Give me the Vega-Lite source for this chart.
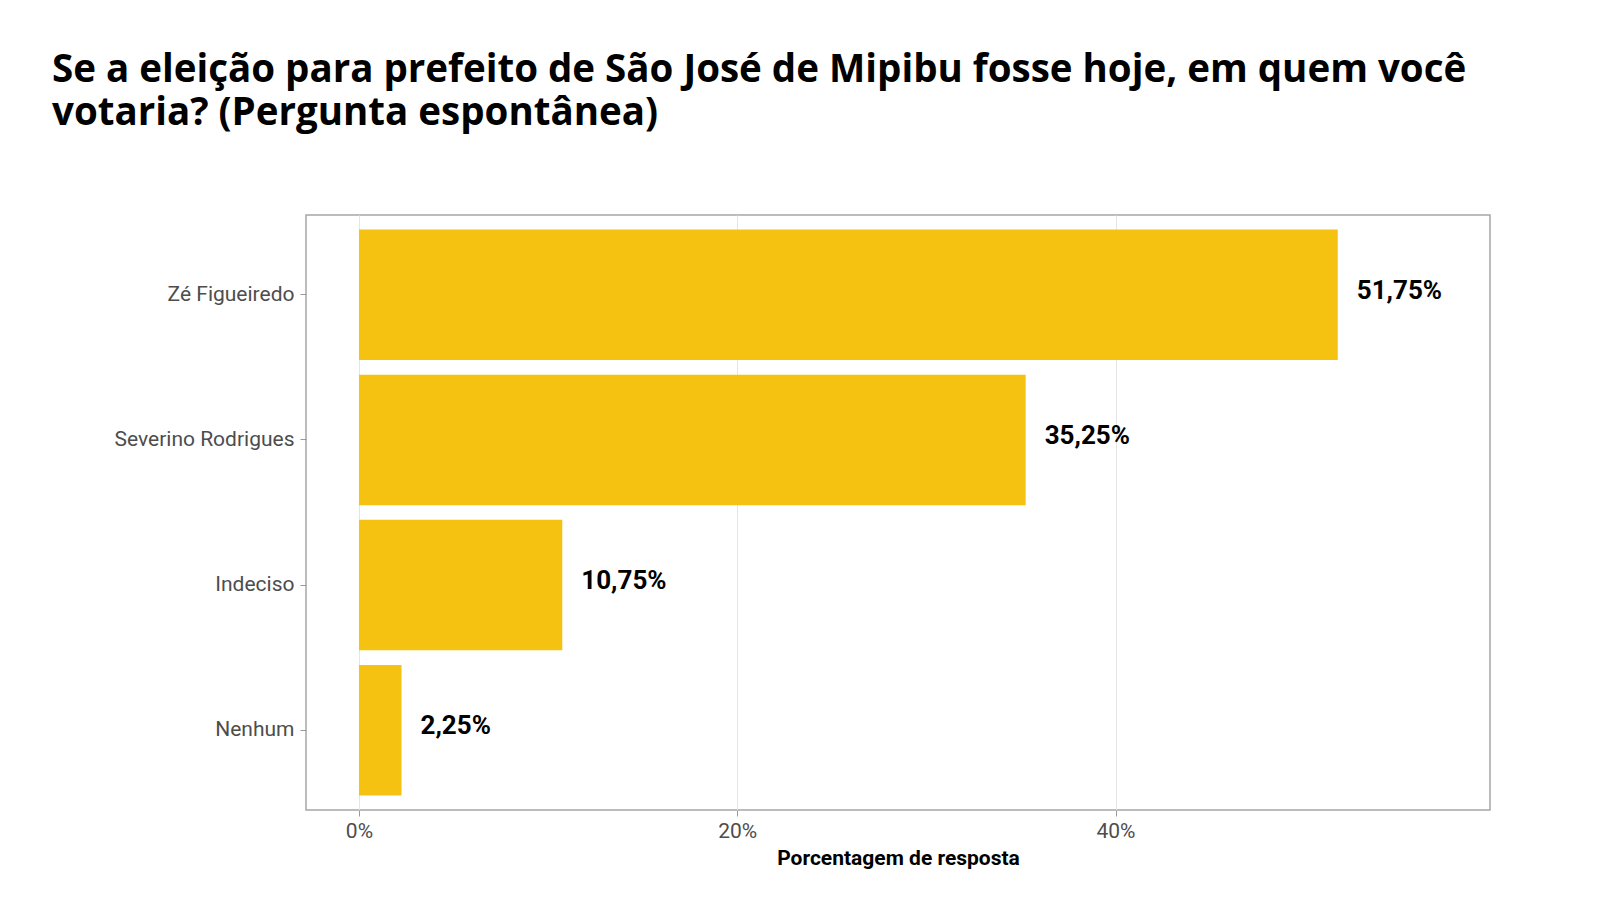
{
  "$schema": "https://vega.github.io/schema/vega-lite/v6.json",
  "width": 1184,
  "height": 595,
  "autosize": {"type": "none"},
  "padding": {"left": 306, "top": 215, "right": 110, "bottom": 94},
  "background": "white",
  "title": {
    "text": ["Se a eleição para prefeito de São José de Mipibu fosse hoje, em quem você", "votaria? (Pergunta espontânea)"],
    "anchor": "start",
    "frame": "group",
    "dx": -254,
    "offset": 82,
    "font": "Open Sans",
    "fontSize": 38.5,
    "fontWeight": "bold",
    "lineHeight": 43,
    "color": "#000000"
  },
  "data": {
    "values": [
      {"candidato": "Zé Figueiredo", "pct": 51.75, "rotulo": "51,75%"},
      {"candidato": "Severino Rodrigues", "pct": 35.25, "rotulo": "35,25%"},
      {"candidato": "Indeciso", "pct": 10.75, "rotulo": "10,75%"},
      {"candidato": "Nenhum", "pct": 2.25, "rotulo": "2,25%"}
    ]
  },
  "config": {
    "view": {"stroke": "#a6a6a6", "strokeWidth": 1.5},
    "font": "Roboto"
  },
  "encoding": {
    "y": {
      "field": "candidato", "type": "nominal", "sort": null, "title": null,
      "scale": {"paddingInner": 0.1, "paddingOuter": 0.1},
      "axis": {"labelFont": "Roboto", "labelFontSize": 21, "labelColor": "#4d4d4d", "tickColor": "#999", "tickSize": 6, "domain": false, "labelPadding": 6, "grid": false}
    },
    "x": {
      "field": "pct", "type": "quantitative",
      "scale": {"domain": [-2.8, 59.8], "nice": false, "zero": false},
      "title": "Porcentagem de resposta",
      "axis": {"values": [0, 20, 40], "labelExpr": "datum.value + '%'", "labelFontSize": 21, "labelColor": "#4d4d4d", "tickSize": 6, "tickColor": "#999", "domain": false, "gridColor": "#e5e5e5", "titleFontSize": 21, "titleFontWeight": "bold", "titleColor": "#000", "titlePadding": 6, "labelPadding": 4}
    }
  },
  "layer": [
    {"mark": {"type": "bar", "color": "#f5c211"}, "encoding": {"x": {"datum": 0}, "x2": {"field": "pct"}}},
    {"mark": {"type": "text", "align": "left", "dx": 19, "dy": -4, "fontSize": 26, "fontWeight": "bold", "color": "#000"}, "encoding": {"text": {"field": "rotulo"}}}
  ]
}
